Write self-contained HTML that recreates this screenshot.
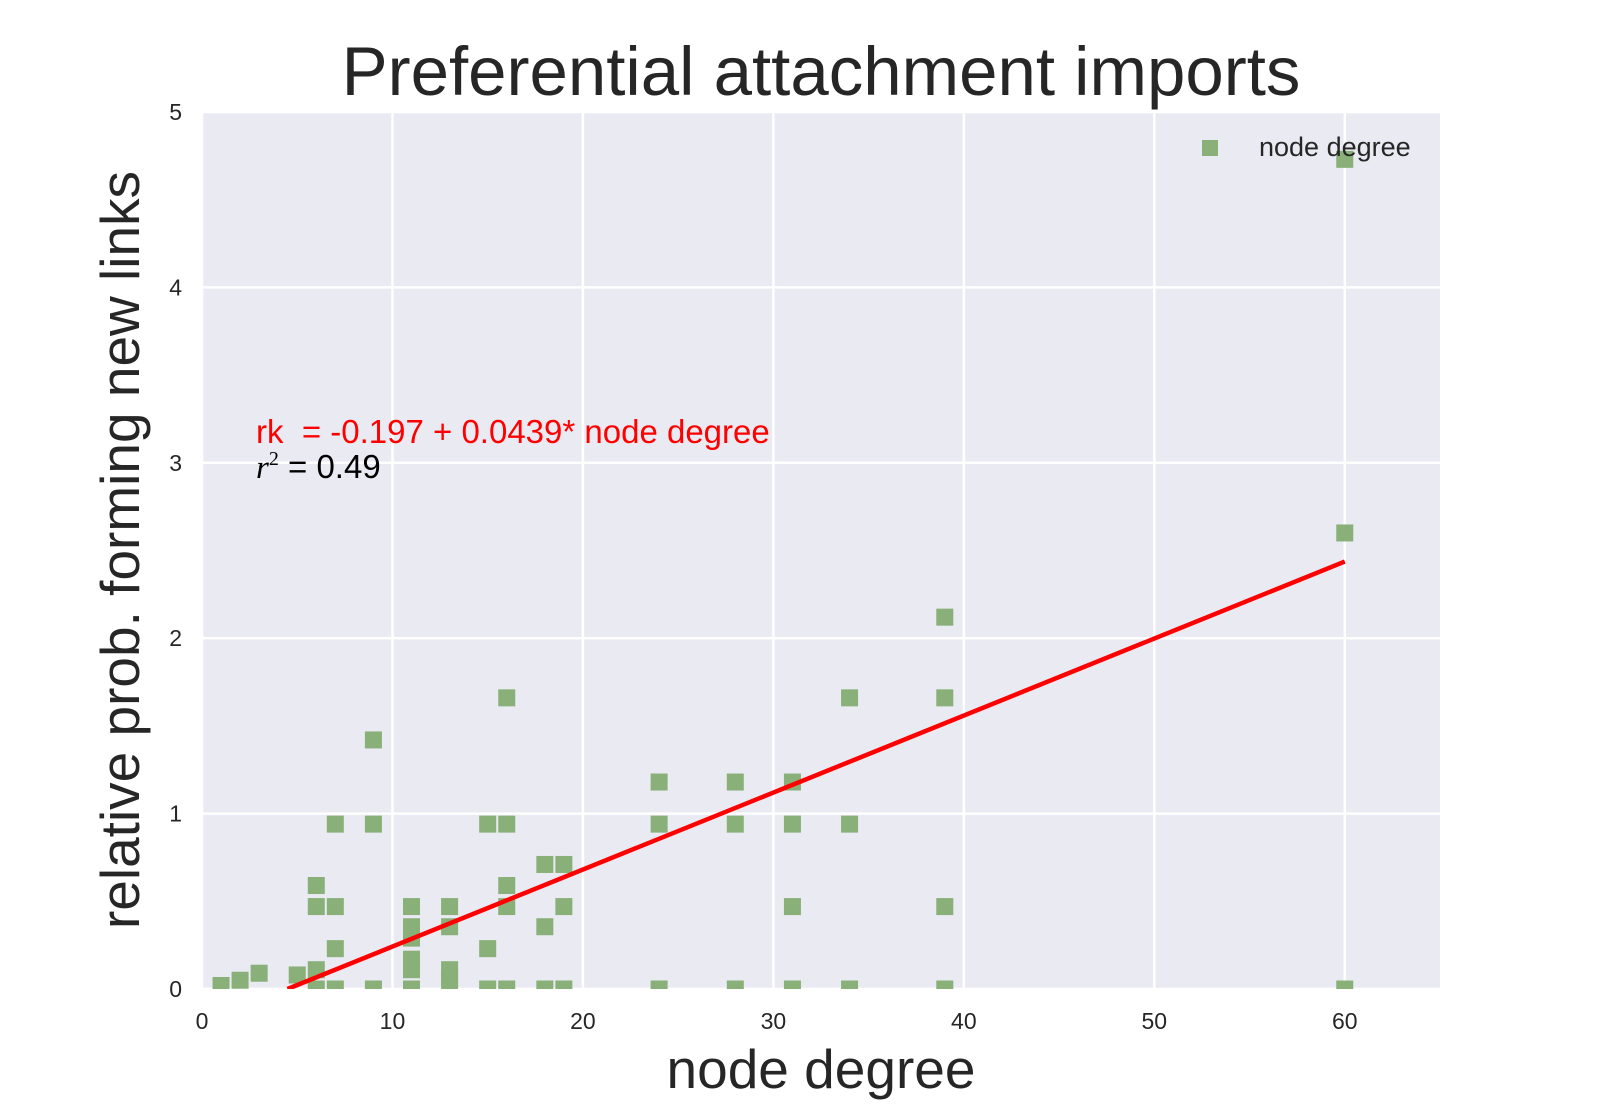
<!DOCTYPE html>
<html><head><meta charset="utf-8"><style>
body{margin:0;background:#fff;}
svg text{font-family:"Liberation Sans",Arial,sans-serif;}
</style></head><body>
<svg id="chart" width="1600" height="1100" xmlns="http://www.w3.org/2000/svg">
<rect x="202" y="112" width="1238" height="877" fill="#EAEAF2"/>
<g id="grid"></g>
<g id="ticks"></g>
<g id="points"></g>
<g id="fit"></g>
<text x="821" y="95" font-size="69" text-anchor="middle" fill="#262626">Preferential attachment imports</text>
<text x="821" y="1088" font-size="55" text-anchor="middle" fill="#262626">node degree</text>
<text transform="translate(139,550) rotate(-90)" font-size="55" text-anchor="middle" fill="#262626">relative prob. forming new links</text>
<text x="256" y="443" font-size="33" fill="#ff0000">rk&#160; = -0.197 + 0.0439* node degree</text>
<text x="256" y="478" font-size="33" fill="#000"><tspan font-family="Liberation Serif" font-style="italic">r</tspan><tspan font-family="Liberation Serif" font-size="20" dy="-13">2</tspan><tspan dy="13"> = 0.49</tspan></text>
<rect x="1202" y="140" width="16" height="16" fill="#88B078"/>
<text x="1259" y="156" font-size="27" fill="#262626">node degree</text>
</svg>
<script>
const xTicks = [0,10,20,30,40,50,60];
const yTicks = [0,1,2,3,4,5];
const degreeX = [1,2,3,5,6,6,6,6,7,7,7,7,9,9,9,11,11,11,11,11,11,13,13,13,13,13,15,15,15,16,16,16,16,16,18,18,18,19,19,19,24,24,24,28,28,28,31,31,31,31,34,34,34,39,39,39,39,60,60,60];
const probY = [0.02,0.05,0.09,0.08,0.11,0,0.47,0.59,0.94,0.47,0.23,0,1.42,0.94,0,0.47,0.355,0.29,0.17,0.11,0,0.47,0.355,0.11,0.06,0,0.94,0.23,0,1.66,0.94,0.59,0.47,0,0.71,0.355,0,0.71,0.47,0,1.18,0.94,0,1.18,0.94,0,1.18,0.94,0.47,0,1.66,0.94,0,2.12,1.66,0.47,0,4.73,2.6,0];
const fitIntercept = -0.197;
const fitSlope = 0.0439;
const X0=202,X1=1440,Y0=989,Y1=112,XMAX=65,YMAX=5;
const sx=v=>X0+v/XMAX*(X1-X0);
const sy=v=>Y0-v/YMAX*(Y0-Y1);
const NS="http://www.w3.org/2000/svg";
function mk(tag,attrs,parent){const e=document.createElementNS(NS,tag);for(const k in attrs)e.setAttribute(k,attrs[k]);parent.appendChild(e);return e;}
const grid=document.getElementById('grid'),ticks=document.getElementById('ticks');
xTicks.forEach(t=>{
  const l=mk('line',{x1:sx(t),x2:sx(t),y1:Y1,y2:Y0,stroke:'#fff','stroke-width':2.5},grid);
  
  
  const tx=mk('text',{x:sx(t),y:1029,'font-size':23,'text-anchor':'middle',fill:'#262626'},ticks);
  tx.textContent=t;
  
  
});
yTicks.forEach(t=>{
  const l=mk('line',{x1:X0,x2:X1,y1:sy(t),y2:sy(t),stroke:'#fff','stroke-width':2.5},grid);
  
  
  const tx=mk('text',{x:182,y:sy(t)+8,'font-size':23,'text-anchor':'end',fill:'#262626'},ticks);
  tx.textContent=t;
  
  
});
const defs=mk('defs',{},document.getElementById('chart'));
const cp=mk('clipPath',{id:'pc'},defs);
mk('rect',{x:X0,y:Y1,width:X1-X0,height:Y0-Y1},cp);
const pts=document.getElementById('points');
pts.setAttribute('clip-path','url(#pc)');
degreeX.forEach((d,i)=>{
  const r=mk('rect',{x:sx(d)-8.5,y:sy(probY[i])-8.5,width:17,height:17,fill:'#88B078'},pts);
  
  
});
const fit=document.getElementById('fit');
fit.setAttribute('clip-path','url(#pc)');
const xs=-fitIntercept/fitSlope, xe=Math.max(...degreeX);
const ln=mk('line',{x1:sx(xs),y1:sy(fitIntercept+fitSlope*xs),x2:sx(xe),y2:sy(fitIntercept+fitSlope*xe),stroke:'#ff0000','stroke-width':4.5},fit);


</script>
</body></html>
